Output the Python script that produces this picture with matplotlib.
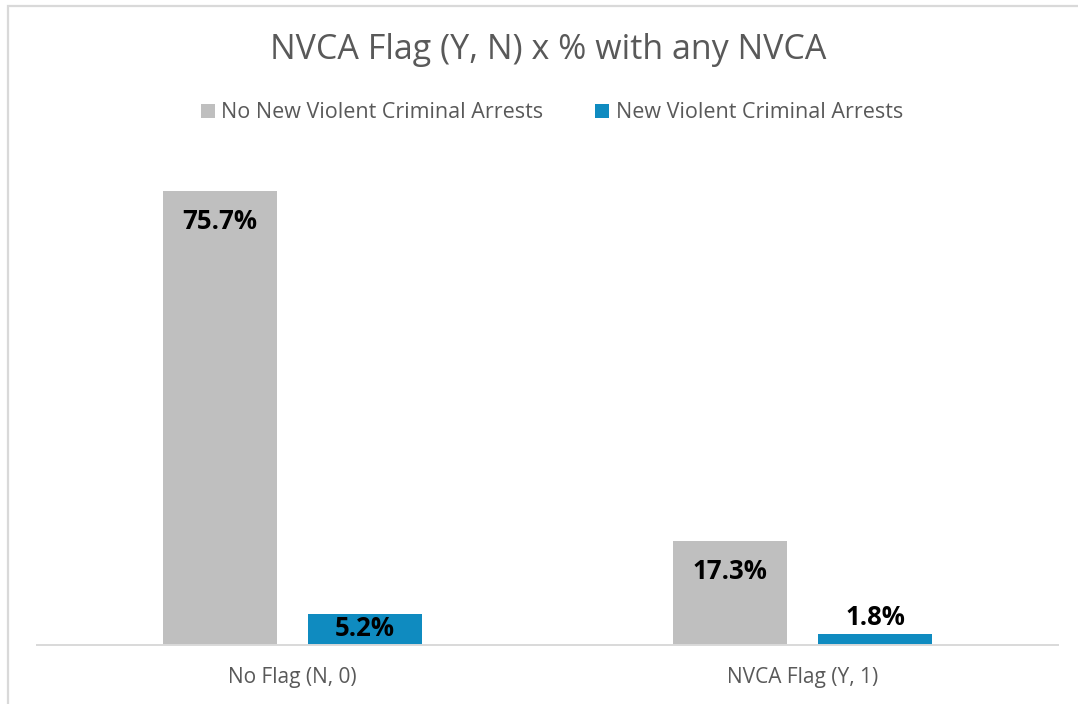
import numpy as np
import matplotlib.pyplot as plt
from matplotlib.patches import Rectangle, Patch

categories = ['No Flag (N, 0)', 'NVCA Flag (Y, 1)']
series_names = ['No New Violent Criminal Arrests', 'New Violent Criminal Arrests']
no_nvca = [75.7, 17.3]
nvca = [5.2, 1.8]

GRAY = '#bfbfbf'
BLUE = '#0f8bc0'
TEXT = '#595959'
LINE = '#d9d9d9'

plt.rcParams['font.family'] = ['Open Sans', 'DejaVu Sans']

W, H = 1078, 704
fig = plt.figure(figsize=(W / 100, H / 100), dpi=100)
ax = fig.add_axes([37 / W, 1 - 645 / H, 1021 / W, (645 - 165) / H])

x = np.arange(len(categories))
width = 0.224
off = 0.142
b1 = ax.bar(x - off, no_nvca, width, color=GRAY)
b2 = ax.bar(x + off, nvca, width, color=BLUE)

ax.set_xlim(-0.5, 1.5)
ax.set_ylim(0, 80)

# label offsets in pixels from bar top (Excel "inside end" style)
label_offsets = [(-31, -15), (-30, 17)]
for i in range(len(categories)):
    for bars, vals, k in ((b1, no_nvca, 0), (b2, nvca, 1)):
        r = bars[i]
        ax.annotate(f'{vals[i]:.1f}%', (r.get_x() + r.get_width() / 2, vals[i]),
                    xytext=(0, label_offsets[i][k] * 0.72), textcoords='offset points',
                    ha='center', va='center', fontsize=18.5, fontweight='bold', color='black')

for s in ('top', 'right', 'left'):
    ax.spines[s].set_visible(False)
ax.spines['bottom'].set_color(LINE)
ax.spines['bottom'].set_linewidth(1.4)
ax.set_yticks([])
ax.set_xticks(x)
ax.set_xticklabels(categories, fontsize=15, color=TEXT)
ax.tick_params(axis='x', length=0, pad=16)

fig.text(548 / W, 1 - 50 / H, 'NVCA Flag (Y, N) x % with any NVCA',
         ha='center', va='center', fontsize=24.5, color=TEXT)

handles = [Patch(facecolor=GRAY), Patch(facecolor=BLUE)]
fig.legend(handles, series_names, loc='center', bbox_to_anchor=(552 / W, 1 - 113 / H),
           ncol=2, frameon=False, fontsize=15.5, labelcolor=TEXT,
           handlelength=0.65, handleheight=0.65, handletextpad=0.3, columnspacing=2.4)

fig.patches.append(Rectangle((7.5 / W, -0.1), 1.2, 1 - 6.5 / H + 0.1, transform=fig.transFigure,
                             fill=False, edgecolor=LINE, linewidth=1.6))

fig.savefig('out.png', dpi=100)
